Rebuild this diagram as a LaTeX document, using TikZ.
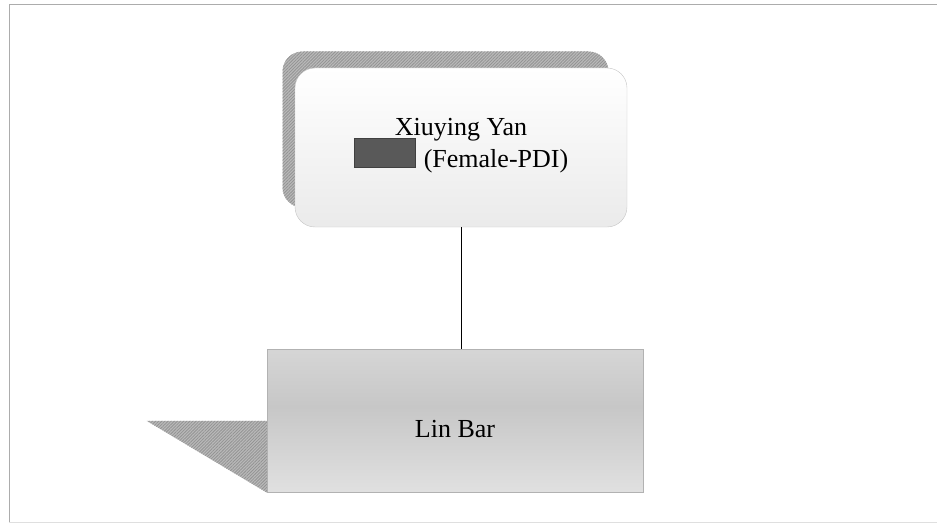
\documentclass[tikz,border=0pt]{standalone}
\usepackage{fontspec}
\setmainfont{Liberation Serif}
\usetikzlibrary{positioning,patterns.meta}

\definecolor{swatchgray}{HTML}{595959}
\newcommand\swatchbox{\smash{\setlength{\fboxsep}{0pt}\setlength{\fboxrule}{1pt}%
  \fcolorbox{black!75}{swatchgray}{\rule{0pt}{28pt}\hspace{60pt}}}}
\pgfdeclareverticalshading{barshade}{100bp}{color(0bp)=(gray!14); color(25bp)=(gray!24); color(55bp)=(gray!44); color(100bp)=(gray!18)}

\begin{document}
\begin{tikzpicture}[
    x=1pt, y=-1pt,
    node distance=122pt,
    every node/.style={font=\fontsize{26}{32}\selectfont},
    hatch/.style={fill=gray!55, postaction={pattern={Lines[angle=45,distance=2.2pt,line width=0.8pt]}, pattern color=gray!85}},
    card/.style={rectangle, draw=gray!45, rounded corners=20pt, minimum width=332pt, minimum height=159pt, inner sep=0pt, top color=white, bottom color=gray!16},
    cardback/.style={rectangle, rounded corners=20pt, hatch, minimum width=326pt, minimum height=156pt, inner sep=0pt},
    bar/.style={rectangle, draw=gray!60, minimum width=376pt, minimum height=143pt, inner sep=0pt, shading=barshade}
]
\useasboundingbox (0,0) rectangle (937,527);
% frame
\draw[gray!65, line width=1pt] (9,522) -- (9,5) -- (937,5);
\draw[gray!25, line width=0.8pt] (9,522) -- (937,522);

\node[cardback] (yanback) at (445.5,129.5) {};
\node[card] (yan) at (461,147.5) {};
\node[anchor=base] (yanname) at ([yshift=12.5pt]yan.center) {Xiuying Yan};
\node[anchor=base] (yanrole) at ([yshift=-19.5pt]yan.center) {\swatchbox\hspace{8pt}(Female-PDI)};

\node[bar, below=of yan, xshift=-6pt, label={[yshift=-8pt]center:Lin Bar}] (lin) {};
\fill[hatch] (lin.west) -- ++(-120,0) -- (lin.south west) -- cycle;

\draw[thick] (yan.south) -- (yan.south |- lin.north);
\end{tikzpicture}
\end{document}
